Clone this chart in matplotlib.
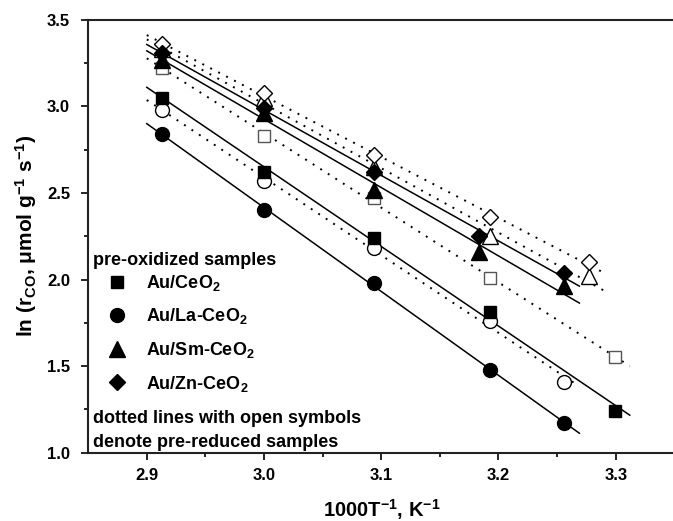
import numpy as np
import matplotlib
matplotlib.use('Agg')
import matplotlib.pyplot as plt

plt.rcParams['font.family'] = ['Liberation Sans', 'DejaVu Sans']
plt.rcParams['font.weight'] = 'bold'
plt.rcParams['mathtext.fontset'] = 'custom'
plt.rcParams['mathtext.rm'] = 'Liberation Sans:bold'
plt.rcParams['mathtext.bf'] = 'Liberation Sans:bold'
plt.rcParams['mathtext.it'] = 'Liberation Sans:bold'
plt.rcParams['mathtext.default'] = 'bf'

# 1000/T values (per sample) and ln(rate)
x_ce = [2.913, 3.000, 3.094, 3.193, 3.299]
y_ce_ox = [3.05, 2.62, 2.24, 1.81, 1.24]
y_ce_red = [3.22, 2.83, 2.47, 2.01, 1.55]

x_la = [2.913, 3.000, 3.094, 3.193, 3.256]
y_la_ox = [2.84, 2.40, 1.98, 1.48, 1.17]
y_la_red = [2.98, 2.57, 2.18, 1.76, 1.41]

x_ox = [2.913, 3.000, 3.094, 3.183, 3.256]
x_red = [2.913, 3.000, 3.094, 3.193, 3.277]
y_sm_ox = [3.27, 2.96, 2.52, 2.16, 1.96]
y_sm_red = [3.33, 3.05, 2.65, 2.25, 2.02]
y_zn_ox = [3.31, 2.99, 2.62, 2.25, 2.04]
y_zn_red = [3.36, 3.08, 2.72, 2.36, 2.10]

labels = ['Au/CeO$_2$', 'Au/La-CeO$_2$', 'Au/Sm-CeO$_2$', 'Au/Zn-CeO$_2$']
markers = ['s', 'o', '^', 'D']
sizes = [9, 10, 11, 8.5]

series = [
    (x_ce, y_ce_ox, x_ce, y_ce_red),
    (x_la, y_la_ox, x_la, y_la_red),
    (x_ox, y_sm_ox, x_red, y_sm_red),
    (x_ox, y_zn_ox, x_red, y_zn_red),
]

def fit_line(ax, x, y, ls, lw):
    x = np.array(x)
    k, b = np.polyfit(x, y, 1)
    xx = np.array([x.min() - 0.013, x.max() + 0.013])
    ax.plot(xx, k * xx + b, color='black', lw=lw, linestyle=ls, zorder=2)

fig = plt.figure(figsize=(6.73, 5.21), dpi=100)
ax = fig.add_axes([0.131, 0.131, 0.871, 0.831])

handles = []
for (xo, yo, xr, yr), lab, m, s in zip(series, labels, markers, sizes):
    fit_line(ax, xo, yo, '-', 1.1)
    fit_line(ax, xr, yr, (0, (1, 3.6)), 1.4)
    ec = '#555555' if m == 's' else 'black'
    ax.plot(xr, yr, linestyle='none', marker=m, ms=s, mfc='white',
            mec=ec, mew=1.0, zorder=3)
    h, = ax.plot(xo, yo, linestyle='none', marker=m, ms=s, color='black',
                 zorder=4, label=lab)
    handles.append(h)

ax.set_xlim(2.85, 3.35)
ax.set_ylim(1.0, 3.5)
ax.set_xticks([2.9, 3.0, 3.1, 3.2, 3.3])
ax.set_xticks([2.95, 3.05, 3.15, 3.25], minor=True)
ax.set_yticks([1.0, 1.5, 2.0, 2.5, 3.0, 3.5])
ax.set_yticks([1.25, 1.75, 2.25, 2.75, 3.25], minor=True)
ax.xaxis.set_major_formatter(matplotlib.ticker.FormatStrFormatter('%.1f'))
ax.yaxis.set_major_formatter(matplotlib.ticker.FormatStrFormatter('%.1f'))
ax.tick_params(which='major', direction='out', length=5, width=1.2, labelsize=12)
ax.tick_params(which='minor', direction='out', length=3, width=1.2)
ax.tick_params(axis='x', pad=6)
ax.tick_params(axis='y', pad=8)
for t in ax.get_xticklabels() + ax.get_yticklabels():
    t.set_fontweight('bold')
for sp in ax.spines.values():
    sp.set_linewidth(1.5)
    sp.set_color('#222222')

ax.set_xlabel('1000T$^{-1}$, K$^{-1}$', fontsize=14.5, fontweight='bold', labelpad=10)
ax.set_ylabel('ln (r$_{CO}$, \u03bcmol g$^{-1}$ s$^{-1}$)', fontsize=15,
              fontweight='bold', labelpad=6)

ax.text(0.008, 0.445, 'pre-oxidized samples', transform=ax.transAxes,
        fontsize=13, fontweight='bold', va='center', ha='left')
leg = ax.legend(handles=handles, loc='upper left', bbox_to_anchor=(0.0, 0.432),
                frameon=False, fontsize=13,
                handletextpad=0.42, labelspacing=0.75, borderaxespad=0.2,
                handlelength=2.4, borderpad=0.2)

ax.text(0.008, 0.078, 'dotted lines with open symbols', transform=ax.transAxes,
        fontsize=13, fontweight='bold', va='center', ha='left')
ax.text(0.008, 0.023, 'denote pre-reduced samples', transform=ax.transAxes,
        fontsize=13, fontweight='bold', va='center', ha='left')

fig.savefig('out.png', dpi=100)
